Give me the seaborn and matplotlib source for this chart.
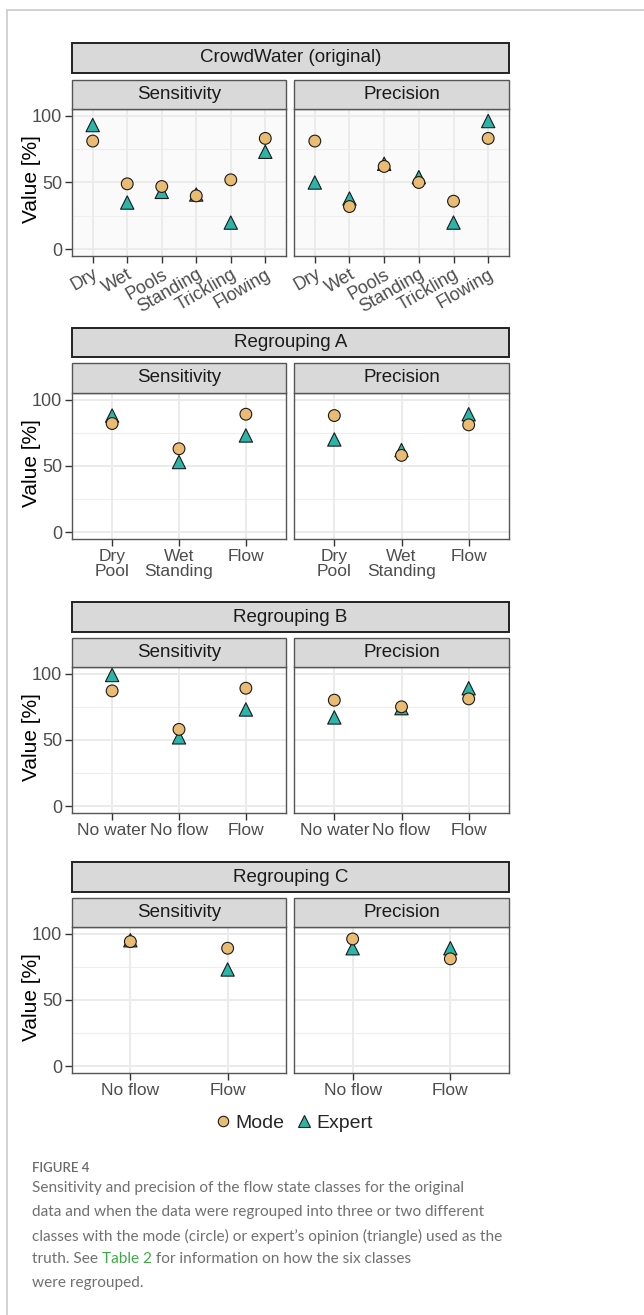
import numpy as np
import pandas as pd
import matplotlib
matplotlib.use("Agg")
import matplotlib.pyplot as plt
import seaborn as sns
from matplotlib.patches import Rectangle
from matplotlib.lines import Line2D

# ---------------- data ----------------
groups = ["CrowdWater (original)", "Regrouping A", "Regrouping B", "Regrouping C"]
metrics = ["Sensitivity", "Precision"]

cats_orig = ["Dry", "Wet", "Pools", "Standing", "Trickling", "Flowing"]
orig_sens_mode = [81, 49, 47, 40, 52, 83]
orig_sens_expert = [93, 35, 43, 41, 20, 73]
orig_prec_mode = [81, 32, 62, 50, 36, 83]
orig_prec_expert = [50, 38, 64, 54, 20, 96]

cats_a = ["Dry\nPool", "Wet\nStanding", "Flow"]
a_sens_mode = [82, 63, 89]
a_sens_expert = [88, 53, 73]
a_prec_mode = [88, 58, 81]
a_prec_expert = [70, 62, 89]

cats_b = ["No water", "No flow", "Flow"]
b_sens_mode = [87, 58, 89]
b_sens_expert = [99, 52, 73]
b_prec_mode = [80, 75, 81]
b_prec_expert = [67, 74, 89]

cats_c = ["No flow", "Flow"]
c_sens_mode = [94, 89]
c_sens_expert = [95, 73]
c_prec_mode = [96, 81]
c_prec_expert = [89, 89]

truth_labels = ["Mode", "Expert"]
y_ticks = [0, 50, 100]
y_minor = [25, 75]

caption_head = "FIGURE 4"
caption_lines = [
    "Sensitivity and precision of the flow state classes for the original",
    "data and when the data were regrouped into three or two different",
    "classes with the mode (circle) or expert\u2019s opinion (triangle) used as the",
]
caption_l4 = ["truth. See ", "Table 2", " for information on how the six classes"]
caption_l5 = "were regrouped."

# ---------------- style ----------------
sns.set_theme(style="white")
plt.rcParams["font.family"] = ["Liberation Sans", "DejaVu Sans"]
CAPF = ["Lato", "DejaVu Sans"]

TAN = "#E9BB73"
TEAL = "#2BB5A8"
palette = {"Mode": TAN, "Expert": TEAL}
markers = {"Mode": "o", "Expert": "^"}
sizes = {"Mode": 72, "Expert": 92}

W, H = 644, 1315
fig = plt.figure(figsize=(W / 100, H / 100), dpi=100)
fig.patch.set_facecolor("white")


def frac(x0, y0, x1, y1):
    return [x0 / W, 1 - y1 / H, (x1 - x0) / W, (y1 - y0) / H]


def strip(x0, y0, x1, y1, label, lw, ec, fs):
    fig.add_artist(Rectangle((x0 / W, 1 - y1 / H), (x1 - x0) / W, (y1 - y0) / H,
                             transform=fig.transFigure, facecolor="#D9D9D9",
                             edgecolor=ec, linewidth=lw))
    fig.text((x0 + x1) / 2 / W, 1 - (y0 + y1) / 2 / H, label, ha="center",
             va="center", fontsize=fs, color="#1A1A1A")


# card border
fig.add_artist(Line2D([7 / W, 1], [1 - 10 / H, 1 - 10 / H], transform=fig.transFigure,
                      color="#CFCFCF", lw=1.3))
fig.add_artist(Line2D([7 / W, 7 / W], [1 - 10 / H, 0], transform=fig.transFigure,
                      color="#CFCFCF", lw=1.3))

rows = [
    dict(outer=(43, 73), sub=(80, 109), ax=(109, 256), cats=cats_orig,
         data=[(orig_sens_mode, orig_sens_expert), (orig_prec_mode, orig_prec_expert)],
         bg="#FAFAFA", rot=True),
    dict(outer=(328, 357), sub=(363, 393), ax=(393, 539), cats=cats_a,
         data=[(a_sens_mode, a_sens_expert), (a_prec_mode, a_prec_expert)],
         bg="white", rot=False),
    dict(outer=(602, 632), sub=(638, 667), ax=(667, 813), cats=cats_b,
         data=[(b_sens_mode, b_sens_expert), (b_prec_mode, b_prec_expert)],
         bg="white", rot=False),
    dict(outer=(862, 892), sub=(898, 927), ax=(927, 1073), cats=cats_c,
         data=[(c_sens_mode, c_sens_expert), (c_prec_mode, c_prec_expert)],
         bg="white", rot=False),
]
cols = [(72, 286), (294, 509)]

FS_STRIP = 13.5
FS_TICK = 12.5

for gi, row in enumerate(rows):
    strip(72, row["outer"][0], 509, row["outer"][1], groups[gi], 1.4, "#222222", FS_STRIP)
    for mi, (cx0, cx1) in enumerate(cols):
        strip(cx0, row["sub"][0], cx1, row["sub"][1], metrics[mi], 1.0, "#555555", FS_STRIP)
        ax = fig.add_axes(frac(cx0, row["ax"][0], cx1, row["ax"][1]))
        ax.set_facecolor(row["bg"])
        mode_v, exp_v = row["data"][mi]
        cats = row["cats"]
        df = pd.DataFrame({
            "cat": list(cats) + list(cats),
            "value": list(exp_v) + list(mode_v),
            "truth": ["Expert"] * len(cats) + ["Mode"] * len(cats),
        })
        df["pos"] = df["cat"].map({c: i for i, c in enumerate(cats)})
        ax.set_axisbelow(True)
        for yv in y_minor:
            ax.axhline(yv, color="#EEEEEE", lw=0.8, zorder=0)
        for yv in y_ticks:
            ax.axhline(yv, color="#EBEBEB", lw=1.4, zorder=0)
        for i in range(len(cats)):
            ax.axvline(i, color="#EBEBEB", lw=1.4, zorder=0)
        sns.scatterplot(data=df, x="pos", y="value", hue="truth", style="truth",
                        size="truth", palette=palette, markers=markers, sizes=sizes,
                        edgecolor="#1A1A1A", linewidth=0.8, legend=False, ax=ax,
                        zorder=3)
        ax.set_xlim(-0.6, len(cats) - 1 + 0.6)
        ax.set_ylim(-5, 105)
        ax.set_xticks(range(len(cats)))
        ax.set_xlabel("")
        ax.set_ylabel("")
        if row["rot"]:
            ax.set_xticklabels(cats, rotation=30, ha="right", rotation_mode="anchor",
                               fontsize=13, color="#4D4D4D")
        else:
            ax.set_xticklabels(cats, fontsize=FS_TICK, color="#4D4D4D", linespacing=1.05)
        ax.set_yticks(y_ticks)
        if mi == 0:
            ax.set_yticklabels([str(v) for v in y_ticks], fontsize=13, color="#4D4D4D")
        else:
            ax.set_yticklabels([])
        ax.tick_params(axis="both", which="both", length=5, width=1, color="#333333",
                       pad=2, direction="out")
        ax.tick_params(axis="x", bottom=True)
        ax.tick_params(axis="y", left=(mi == 0), length=5 if mi == 0 else 0)
        for s in ax.spines.values():
            s.set_color("#555555")
            s.set_linewidth(1.0)
        if mi == 0:
            ymid = (row["ax"][0] + row["ax"][1]) / 2 - 3
            fig.text(32 / W, 1 - ymid / H, "Value [%]", rotation=90, ha="center",
                     va="center", fontsize=15, color="black")

# legend
handles = [
    Line2D([], [], marker="o", linestyle="none", markerfacecolor=TAN,
           markeredgecolor="#1A1A1A", markeredgewidth=0.8, markersize=7.5),
    Line2D([], [], marker="^", linestyle="none", markerfacecolor=TEAL,
           markeredgecolor="#1A1A1A", markeredgewidth=0.8, markersize=8.5),
]
fig.legend(handles, truth_labels, loc="center", bbox_to_anchor=(293 / W, 1 - 1123 / H),
           ncol=2, frameon=False, fontsize=14, handletextpad=0.15, columnspacing=0.5,
           handlelength=1.0, borderaxespad=0)

# caption
CAPC = "#707070"
fig.text(32 / W, 1 - 1168 / H, caption_head, fontsize=9.5, color="#6A6A6A",
         family=CAPF, va="center", ha="left", fontweight="semibold")

renderer = fig.canvas.get_renderer()
probe = fig.text(0, 0, caption_lines[0], fontsize=10, family=CAPF)
wpx = probe.get_window_extent(renderer).width
probe.remove()
cap_fs = 10 * 435 / wpx

line_ys = [1188, 1212, 1236, 1259, 1283]
for i, ln in enumerate(caption_lines):
    fig.text(32 / W, 1 - line_ys[i] / H, ln, fontsize=cap_fs, color=CAPC,
             family=CAPF, va="center", ha="left")
xcur = 32
for part, col in zip(caption_l4, [CAPC, "#3DAA4A", CAPC]):
    t = fig.text(xcur / W, 1 - line_ys[3] / H, part, fontsize=cap_fs, color=col,
                 family=CAPF, va="center", ha="left")
    xcur += t.get_window_extent(renderer).width
fig.text(32 / W, 1 - line_ys[4] / H, caption_l5, fontsize=cap_fs, color=CAPC,
         family=CAPF, va="center", ha="left")

fig.savefig("out.png", dpi=100)
